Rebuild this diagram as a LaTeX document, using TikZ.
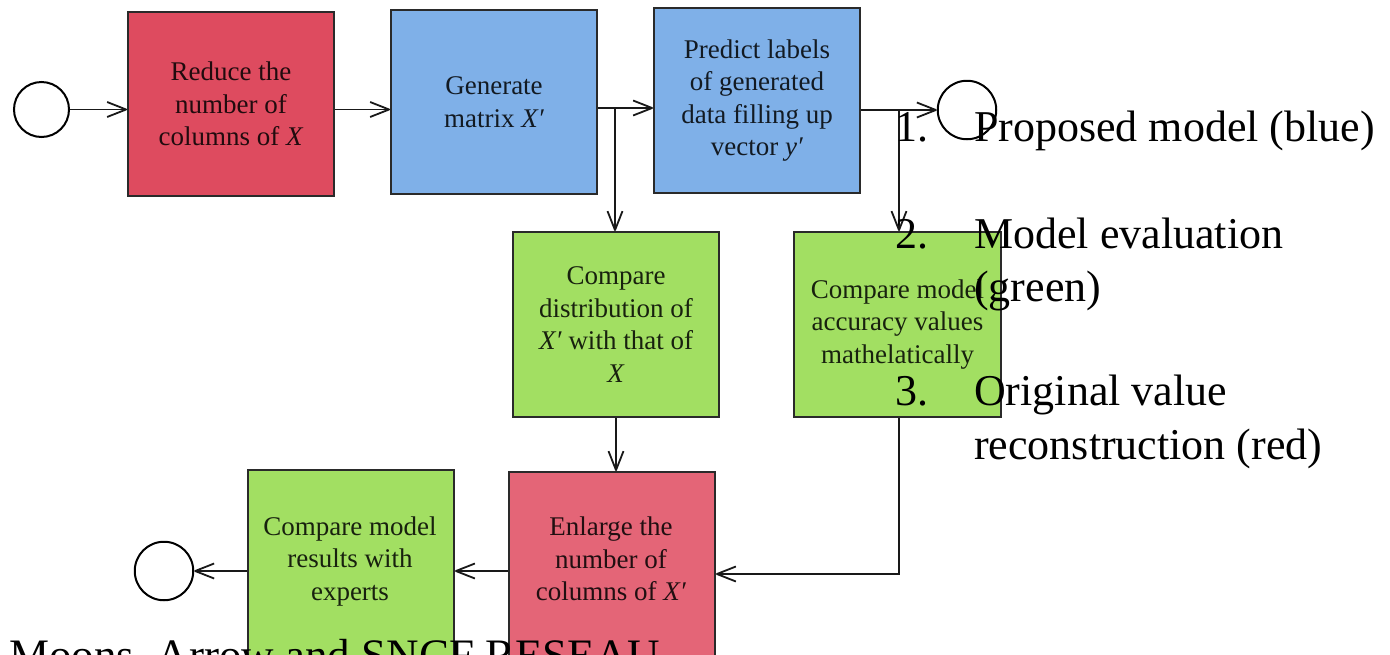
\documentclass[tikz,border=0pt]{standalone}
\usepackage{fontspec}
\setmainfont{Liberation Serif}
\usetikzlibrary{arrows.meta}
\definecolor{redA}{HTML}{DE4B5F}
\definecolor{redB}{HTML}{E46577}
\definecolor{blueA}{HTML}{7FB0E8}
\definecolor{greenA}{HTML}{A2DF62}
\definecolor{edge}{HTML}{2A2A2A}
\tikzset{
  box/.style={draw=edge, line width=2pt, minimum width=206pt, minimum height=184pt,
    inner sep=0pt, anchor=north west, align=center,
    font=\fontsize{27}{32.5}\selectfont, text opacity=0.85},
  boxtext/.style={inner sep=0pt, align=center,
    font=\fontsize{27}{32.5}\selectfont, text opacity=0.85},
  endpt/.style={circle, draw=black, line width=2pt, fill=white, inner sep=0pt},
  flow/.style={draw=black!90, line width=1.8pt,
    -{Straight Barb[length=19pt,width=15pt,line join=round]}},
  legend/.style={anchor=base west, inner sep=0pt, font=\fontsize{44}{53}\selectfont},
}
\begin{document}
\begin{tikzpicture}[x=1pt,y=-1pt]
\useasboundingbox (0,0) rectangle (1390,654);
\clip (0,0) rectangle (1390,654);
\fill[white] (0,0) rectangle (1390,654);

% start and end events
\node[endpt, minimum size=55pt] (start) at (41.5,109.5) {};
\node[endpt, minimum size=58.5pt] (finish) at (967,110) {};
\node[endpt, minimum size=58.5pt] (stop) at (164,571) {};

% top row
\node[box, fill=redA] (reduce) at (127,11) {Reduce the\\number of\\columns of \textit{X}};
\node[box, fill=blueA] (generate) at (390,9) {Generate\\matrix \textit{X′}};
\node[box, fill=blueA, minimum height=185pt] (predict) at (653,7)
  {Predict labels\\of generated\\data filling up\\vector \textit{y′}};

% evaluation row
\node[box, fill=greenA, minimum height=185pt] (compdist) at (512,231)
  {Compare\\distribution of\\\textit{X′} with that of\\\textit{X}};
\node[box, fill=greenA, minimum height=185pt, minimum width=207pt] (compacc) at (793,231)
  {Compare model\\accuracy values\\mathelatically};

% bottom row (boxes run past the lower edge)
\node[box, fill=greenA, minimum height=200pt] (experts) at (247,469) {};
\node[boxtext] (expertstext) at (350,561) {Compare model\\results with\\experts};
\node[box, fill=redB, minimum height=200pt] (enlarge) at (508,471) {};
\node[boxtext] (enlargetext) at (611,559) {Enlarge the\\number of\\columns of \textit{X′}};

% connectors
\coordinate (j1) at (615,108);
\coordinate (j2) at (899,109);
\coordinate (k) at (899,574);
\draw[flow] (start) -- (start -| reduce.west);
\draw[flow] (reduce.east |- start) -- (start -| generate.west);
\draw[flow] (generate.east |- j1) -- (predict.west |- j1);
\draw[flow] (j1) -- (j1 |- compdist.north);
\draw[flow] (predict.east |- finish) -- (finish);
\draw[flow] (j2) -- (j2 |- compacc.north);
\draw[flow] (j2 |- compacc.south) -- (k) -- (k -| enlarge.east);
\draw[flow] (compdist.south) -- (compdist.south |- enlarge.north);
\draw[flow] (enlarge.west |- stop) -- (experts.east |- stop);
\draw[flow] (experts.west |- stop) -- (stop);

% legend
\node[legend] (n1) at (895,141.7) {1.};
\node[legend] (t1) at (974,141.7) {Proposed model (blue)};
\node[legend] (n2) at (895,248.3) {2.};
\node[legend] (t2) at (974,248.3) {Model evaluation};
\node[legend] (t2b) at (974,301.7) {(green)};
\node[legend] (n3) at (895,405) {3.};
\node[legend] (t3) at (974,405) {Original value};
\node[legend] (t3b) at (974,459.3) {reconstruction (red)};

% credit line along the lower edge
\node[anchor=base west, inner sep=0pt, font=\fontsize{45}{54}\selectfont] (credit)
  at (9,670) {Moons, Arrow and SNCF RESEAU};
\end{tikzpicture}
\end{document}
